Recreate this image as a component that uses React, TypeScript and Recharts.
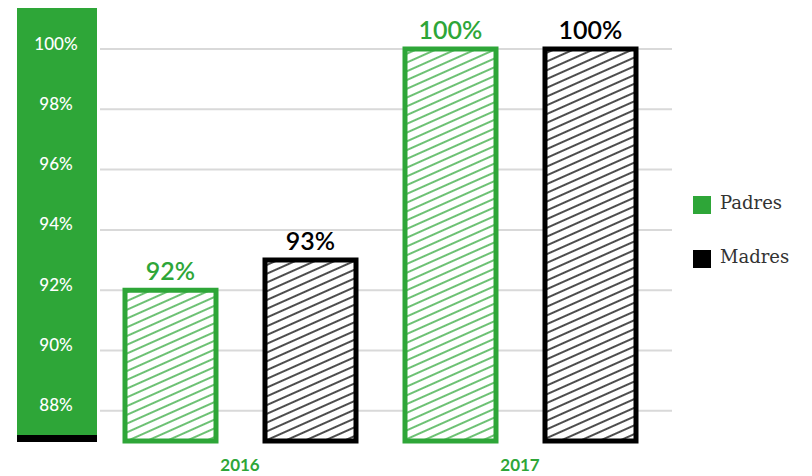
import React from "react";
import { BarChart, Bar, XAxis, YAxis, CartesianGrid, LabelList } from "recharts";

const GREEN = "#2ea638";
const BLACK = "#000000";

const years = ["2016", "2017"];
const padres = [92, 100];
const madres = [93, 100];
const yTicks = [88, 90, 92, 94, 96, 98, 100];
const series = [
  { name: "Padres", color: GREEN },
  { name: "Madres", color: BLACK },
];

const data = years.map((year, i) => ({ year, padres: padres[i], madres: madres[i] }));

function YTick(props: any) {
  const { x, y, payload } = props;
  return (
    <text x={x - 36} y={y - 6} textAnchor="middle" dominantBaseline="central" fill="#ffffff" fontSize={17} fontFamily="Lato, sans-serif" fontWeight={500}>
      {payload.value}%
    </text>
  );
}

function XTick(props: any) {
  const { x, y, payload } = props;
  return (
    <text x={x} y={y + 22} textAnchor="middle" fill={GREEN} fontSize={17} fontFamily="Lato, sans-serif" fontWeight={700}>
      {payload.value}
    </text>
  );
}

function topLabel(color: string) {
  return (props: any) => {
    const { x, y, width, value } = props;
    return (
      <text x={x + width / 2} y={y - 10} textAnchor="middle" fill={color} fontSize={25} fontFamily="Lato, sans-serif" fontWeight={600}>
        {value}%
      </text>
    );
  };
}

export default function App() {
  return (
    <div style={{ position: "relative", width: 796, height: 468 }}>
      <div style={{ position: "absolute", left: 9, top: 0, width: 80, height: 427, background: GREEN }} />
      <div style={{ position: "absolute", left: 9, top: 427, width: 80, height: 7, background: BLACK }} />
      <div style={{ position: "absolute", left: 0, top: 0 }}>
        <BarChart width={796} height={468} data={data} margin={{ top: 41, right: 132, left: 9, bottom: 0 }} barSize={91} barGap={49} barCategoryGap={24}>
          <defs>
            <pattern id="hatchGreen" patternUnits="userSpaceOnUse" width={8} height={8} patternTransform="rotate(-24)">
              <rect width={8} height={8} fill="#ffffff" />
              <line x1={0} y1={4} x2={8} y2={4} stroke={GREEN} strokeWidth={1.4} />
            </pattern>
            <pattern id="hatchBlack" patternUnits="userSpaceOnUse" width={8} height={8} patternTransform="rotate(-24)">
              <rect width={8} height={8} fill="#ffffff" />
              <line x1={0} y1={4} x2={8} y2={4} stroke={BLACK} strokeWidth={1.4} />
            </pattern>
          </defs>
          <CartesianGrid vertical={false} horizontalValues={yTicks} stroke="#d9d9d9" strokeWidth={2} />
          <XAxis dataKey="year" axisLine={false} tickLine={false} height={35} tick={<XTick />} padding={{ left: 0, right: 12 }} />
          <YAxis domain={[87, 100]} ticks={yTicks} width={83} axisLine={false} tickLine={false} tick={<YTick />} />
          <Bar dataKey="padres" name="Padres" fill="url(#hatchGreen)" stroke={GREEN} strokeWidth={5} isAnimationActive={false}>
            <LabelList dataKey="padres" content={topLabel(GREEN)} />
          </Bar>
          <Bar dataKey="madres" name="Madres" fill="url(#hatchBlack)" stroke={BLACK} strokeWidth={5} isAnimationActive={false}>
            <LabelList dataKey="madres" content={topLabel(BLACK)} />
          </Bar>
        </BarChart>
      </div>
      <div style={{ position: "absolute", left: 685, top: 180, display: "flex", flexDirection: "column", gap: 26 }}>
        {series.map((s) => (
          <div key={s.name} style={{ display: "flex", alignItems: "center", height: 28 }}>
            <span style={{ width: 18, height: 18, background: s.color, display: "inline-block", marginRight: 9, marginTop: 6 }} />
            <span style={{ fontFamily: "'DejaVu Serif', serif", fontSize: 18, color: "#333" }}>{s.name}</span>
          </div>
        ))}
      </div>
    </div>
  );
}
